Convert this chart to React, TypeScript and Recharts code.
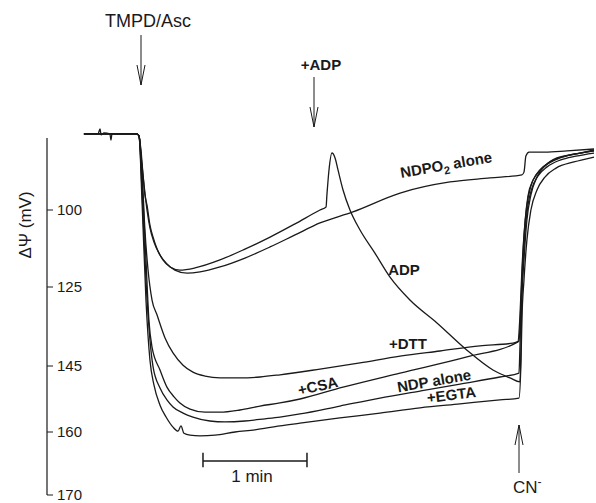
import React from "react";
import { LineChart, Line, XAxis, YAxis, ReferenceLine } from "recharts";

const FONT = '"Liberation Sans", Arial, Helvetica, sans-serif';
const INK = "#1a1a1a";

// time in seconds, ΔΨ in mV (the printed axis is not linear)
const Y_TICKS = [100, 125, 145, 160, 170];

// knots of the printed ΔΨ axis: value -> offset along the axis
const AXIS_KNOT_MV = [70, 100, 125, 145, 160, 170];
const AXIS_KNOT_POS = [0, 92.4, 169.4, 248.4, 314.4, 377.4];

const BASELINE: [number, number][] = [[21.3, 75.3], [51.9, 75.3], [53.1, 76.0]];

const ADP_TRACE: [number, number][] = [
  [21.3, 75.3], [29.4, 75.3], [30.6, 73.7], [31.2, 75.6], [32.9, 75.0], [36.3, 75.3],
  [36.9, 77.3], [37.5, 75.3], [51.9, 75.3], [53.1, 76.0], [54.2, 80.5], [55.4, 88.6],
  [56.5, 95.1], [57.7, 98.4], [59.4, 104.9], [61.2, 108.8], [64.0, 113.3], [66.9, 116.2],
  [71.0, 118.5], [76.7, 119.5], [85.4, 118.8], [99.8, 116.2], [114.2, 112.7], [128.7, 108.8],
  [143.1, 104.5], [157.5, 100.0], [161.0, 99.0], [161.5, 95.1], [162.7, 87.0], [164.4, 81.5],
  [166.2, 83.1], [167.9, 87.0], [170.8, 93.5], [174.8, 100.0], [180.6, 106.5], [189.2, 114.0],
  [197.9, 121.8], [209.4, 128.3], [225.0, 134.1], [242.3, 141.0], [257.3, 145.9], [267.1, 147.7],
  [272.9, 148.6], [273.5, 139.7], [274.0, 128.3], [275.2, 116.2], [276.9, 103.2], [279.2, 95.1],
  [282.7, 89.3], [287.3, 85.7], [294.2, 83.1], [304.6, 81.8], [315.6, 80.8],
];

const NDPO2_TRACE: [number, number][] = [
  ...BASELINE,
  [54.2, 82.1], [56.0, 91.9], [57.7, 100.0], [59.4, 105.8], [61.7, 110.4], [65.2, 114.6],
  [69.2, 117.5], [73.8, 119.5], [80.8, 120.5], [88.3, 120.1], [99.8, 118.5], [114.2, 115.6],
  [128.7, 112.0], [143.1, 108.1], [157.5, 104.2], [176.5, 100.6], [203.7, 94.5], [232.5, 90.9],
  [255.6, 89.6], [274.0, 88.6], [275.2, 87.7], [276.3, 82.5], [278.1, 81.2], [287.3, 81.2],
  [300.0, 80.8], [315.6, 80.2],
];

const DTT_TRACE: [number, number][] = [
  ...BASELINE,
  [54.8, 87.0], [56.5, 106.5], [58.3, 119.5], [60.6, 128.3], [63.5, 132.1], [68.1, 137.9],
  [72.7, 141.7], [78.5, 144.8], [84.2, 146.4], [91.2, 147.3], [99.8, 147.7], [111.3, 147.7],
  [122.9, 147.5], [134.4, 147.0], [157.5, 145.7], [180.6, 144.2], [203.7, 142.5], [226.7, 141.2],
  [249.8, 139.9], [268.8, 139.2], [272.3, 138.7], [273.5, 128.3], [274.6, 114.6], [275.8, 103.9],
  [277.5, 95.5], [280.4, 90.3], [284.4, 87.0], [290.2, 84.4], [298.8, 82.5], [307.5, 81.5],
  [315.6, 80.5],
];

const CSA_TRACE: [number, number][] = [
  ...BASELINE,
  [54.8, 90.3], [57.1, 116.2], [58.8, 133.4], [60.6, 140.2], [65.2, 145.9], [69.2, 149.8],
  [73.3, 152.0], [76.7, 153.4], [82.5, 154.8], [91.2, 155.5], [99.8, 155.5], [111.3, 155.0],
  [122.9, 154.1], [134.4, 153.4], [146.0, 152.5], [170.8, 149.8], [203.7, 146.6], [242.3, 142.7],
  [271.7, 138.9], [272.9, 132.1], [274.0, 119.5], [275.2, 108.1], [276.9, 98.4], [279.2, 92.2],
  [282.7, 88.3], [287.9, 85.4], [296.0, 83.1], [305.2, 81.8], [315.6, 80.8],
];

const NDP_TRACE: [number, number][] = [
  ...BASELINE,
  [54.8, 93.5], [57.1, 122.7], [59.4, 138.4], [61.2, 145.2], [65.2, 150.0], [69.2, 152.7],
  [72.7, 154.3], [78.5, 155.7], [84.2, 156.6], [94.0, 157.5], [102.7, 157.7], [114.2, 157.5],
  [125.8, 157.0], [134.4, 156.6], [146.0, 155.9], [169.0, 154.1], [192.1, 152.3], [215.2, 150.7],
  [238.3, 149.1], [261.3, 147.5], [272.3, 146.6], [272.9, 139.7], [273.5, 130.8], [274.6, 118.8],
  [275.8, 107.1], [277.5, 98.4], [279.8, 92.9], [283.3, 88.9], [288.5, 86.0], [296.0, 83.8],
  [305.2, 82.5], [315.6, 81.5],
];

const EGTA_TRACE: [number, number][] = [
  ...BASELINE,
  [54.8, 96.8], [57.1, 128.3], [59.4, 143.5], [61.7, 149.3], [65.2, 153.9], [68.7, 156.6],
  [72.7, 158.9], [75.6, 159.8], [77.3, 158.6], [79.0, 160.2], [82.5, 160.5], [88.3, 160.6],
  [96.9, 160.5], [108.5, 160.0], [120.0, 159.5], [134.4, 158.6], [146.0, 158.0], [169.0, 156.8],
  [192.1, 155.7], [215.2, 154.5], [238.3, 153.6], [261.3, 152.7], [272.3, 152.3], [273.5, 143.5],
  [274.0, 133.4], [275.2, 122.7], [276.9, 109.7], [279.2, 100.0], [282.7, 93.5], [287.3, 89.3],
  [293.7, 86.4], [304.0, 84.4], [315.6, 82.8],
];

const TRACES = [
  { name: "ADP", points: ADP_TRACE },
  { name: "NDPO2 alone", points: NDPO2_TRACE },
  { name: "+DTT", points: DTT_TRACE },
  { name: "+CSA", points: CSA_TRACE },
  { name: "NDP alone", points: NDP_TRACE },
  { name: "+EGTA", points: EGTA_TRACE },
];

// 1 min scale bar (seconds, mV)
const SCALE_BAR_T = [90, 150];
const SCALE_BAR_MV = 164.6;

function warp(v: number) {
  const k = AXIS_KNOT_MV;
  const p = AXIS_KNOT_POS;
  let i = 0;
  while (i < k.length - 2 && v > k[i + 1]) i++;
  return p[i] + ((v - k[i]) * (p[i + 1] - p[i])) / (k[i + 1] - k[i]);
}

// d3-like scale following the printed axis
function printedScale(): any {
  let dom = [70, 170];
  let rng = [0, 1];
  const s: any = (v: number) => {
    const a = warp(dom[0]);
    const b = warp(dom[1]);
    return rng[0] + ((warp(Number(v)) - a) / (b - a)) * (rng[1] - rng[0]);
  };
  s.domain = (d?: any[]) => {
    if (!d) return dom.slice();
    dom = [Number(d[0]), Number(d[d.length - 1])];
    return s;
  };
  s.range = (r?: number[]) => {
    if (!r) return rng.slice();
    rng = [r[0], r[r.length - 1]];
    return s;
  };
  s.copy = () => printedScale().domain(dom).range(rng);
  s.ticks = () => Y_TICKS;
  return s;
}

const Arrow = ({ x, from, to }: { x: number; from: number; to: number }) => {
  const dir = to > from ? 1 : -1;
  return (
    <g stroke={INK} strokeWidth={1} fill="none">
      <line x1={x} y1={from} x2={x} y2={to} />
      <polyline points={`${x - 4},${to - dir * 20} ${x},${to} ${x + 4},${to - dir * 20}`} />
    </g>
  );
};

const Notes = () => (
  <g fontFamily={FONT} fill={INK}>
    <text x={148} y={27} fontSize={18} textAnchor="middle">TMPD/Asc</text>
    <Arrow x={141} from={35} to={85} />
    <text x={321} y={70} fontSize={15} fontWeight="bold" textAnchor="middle">+ADP</text>
    <Arrow x={314} from={77} to={127} />
    <Arrow x={519} from={473} to={425} />
    <text x={513} y={493} fontSize={17}>
      CN<tspan dy={-7} fontSize={12}>-</tspan>
    </text>
    <text x={252} y={482} fontSize={17} textAnchor="middle">1 min</text>
    <text transform="translate(31,225) rotate(-90)" fontSize={17} textAnchor="middle">ΔΨ (mV)</text>
    <g fontSize={15} fontWeight="bold" textAnchor="middle">
      <text transform="translate(447,170) rotate(-10)">
        NDPO<tspan dy={4} fontSize={11}>2</tspan><tspan dy={-4}> alone</tspan>
      </text>
      <text x={404} y={275}>ADP</text>
      <text x={408} y={349}>+DTT</text>
      <text transform="translate(319,391) rotate(-13)">+CSA</text>
      <text transform="translate(435,386) rotate(-10)">NDP alone</text>
      <text transform="translate(452,400) rotate(-7)">+EGTA</text>
    </g>
  </g>
);

export default function App() {
  const scale = printedScale();
  return (
    <div style={{ position: "absolute", left: 0, top: 0, background: "#fff" }}>
      <LineChart width={596} height={503} margin={{ top: 117.6, right: 1.3, bottom: 8, left: 47 }}>
        <XAxis type="number" dataKey="t" domain={[0, 316]} hide />
        <YAxis
          type="number"
          domain={[70, 170]}
          scale={scale}
          reversed
          mirror
          ticks={Y_TICKS}
          interval={0}
          axisLine={false}
          tickLine={{ stroke: INK }}
          tickSize={6}
          tickMargin={4}
          tick={{ fill: INK, fontSize: 15, fontFamily: FONT }}
        />
        <ReferenceLine segment={[{ x: 0, y: 76.6 }, { x: 0, y: 170 }]} stroke={INK} strokeWidth={1.2} />
        <ReferenceLine
          segment={[{ x: SCALE_BAR_T[0], y: SCALE_BAR_MV }, { x: SCALE_BAR_T[1], y: SCALE_BAR_MV }]}
          stroke={INK}
          strokeWidth={1.5}
        />
        <ReferenceLine segment={[{ x: SCALE_BAR_T[0], y: 163.3 }, { x: SCALE_BAR_T[0], y: 165.6 }]} stroke={INK} strokeWidth={1.5} />
        <ReferenceLine segment={[{ x: SCALE_BAR_T[1], y: 163.3 }, { x: SCALE_BAR_T[1], y: 165.6 }]} stroke={INK} strokeWidth={1.5} />
        {TRACES.map((tr) => (
          <Line
            key={tr.name}
            name={tr.name}
            data={tr.points.map(([t, mv]) => ({ t, mv }))}
            dataKey="mv"
            type="monotone"
            stroke={INK}
            strokeWidth={1.3}
            dot={false}
            isAnimationActive={false}
          />
        ))}
        <Notes />
      </LineChart>
    </div>
  );
}
